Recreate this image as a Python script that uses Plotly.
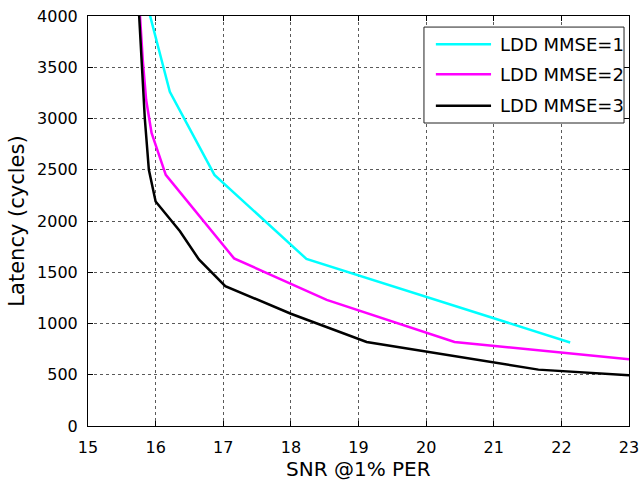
import plotly.graph_objects as go

# ---- data ----
snr_mmse1 = [15.84, 16.21, 16.87, 18.23, 22.13]
lat_mmse1 = [4200, 3260, 2450, 1630, 815]

snr_mmse2 = [15.75, 15.81, 15.86, 15.94, 16.15, 17.16, 18.53, 20.42, 23.0]
lat_mmse2 = [4200, 3570, 3180, 2860, 2450, 1635, 1230, 820, 650]

snr_mmse3 = [15.74, 15.80, 15.84, 15.90, 16.0, 16.36, 16.64, 17.03, 18.0, 19.12, 21.66, 23.0]
lat_mmse3 = [4200, 3505, 3000, 2500, 2190, 1900, 1625, 1365, 1095, 820, 550, 495]

series_names = ["LDD MMSE=1", "LDD MMSE=2", "LDD MMSE=3"]
series_colors = ["#00FFFF", "#FF00FF", "#000000"]

x_ticks = [15, 16, 17, 18, 19, 20, 21, 22, 23]
y_ticks = [0, 500, 1000, 1500, 2000, 2500, 3000, 3500, 4000]

x_title = "SNR @1% PER"
y_title = "Latency (cycles)"

xs = [snr_mmse1, snr_mmse2, snr_mmse3]
ys = [lat_mmse1, lat_mmse2, lat_mmse3]

fig = go.Figure()
for x, y, name, color in zip(xs, ys, series_names, series_colors):
    fig.add_trace(go.Scatter(x=x, y=y, mode="lines", name=name,
                             line=dict(color=color, width=2.5),
                             showlegend=False))

tick_font = dict(family="DejaVu Sans", size=16, color="#000000")
title_font = dict(family="DejaVu Sans", size=21, color="#000000")
grid = dict(showgrid=True, gridcolor="#5a5a5a", gridwidth=1, griddash="3px,3px",
            showline=True, linecolor="#000000", linewidth=1, mirror="ticks",
            ticks="inside", ticklen=5, tickcolor="#000000", zeroline=False,
            tickfont=tick_font, automargin=True)

fig.update_xaxes(range=[15, 23], tickvals=x_ticks, ticklabelstandoff=7, **grid)
fig.update_yaxes(range=[0, 4000], tickvals=y_ticks,
                 title=dict(text=y_title, font=title_font, standoff=6),
                 ticklabelstandoff=6,
                 **grid)

# x-axis title placed just below the tick labels
fig.add_annotation(xref="paper", yref="paper", x=0.5, y=-0.1037,
                   xanchor="center", yanchor="middle", showarrow=False,
                   borderpad=0, text=x_title,
                   font=dict(family="DejaVu Sans", size=20, color="#000000"))

# ---- legend box drawn in paper coordinates ----
fig.add_shape(type="rect", xref="paper", yref="paper",
              x0=0.621, x1=0.9908, y0=0.739, y1=0.973,
              line=dict(color="#222222", width=1), fillcolor="#ffffff", layer="above")
row_y = [0.931, 0.858, 0.781]
for ry, name, color in zip(row_y, series_names, series_colors):
    fig.add_shape(type="line", xref="paper", yref="paper",
                  x0=0.643, x1=0.745, y0=ry, y1=ry,
                  line=dict(color=color, width=2.5), layer="above")
    fig.add_annotation(xref="paper", yref="paper", x=0.757, y=ry,
                       xanchor="left", yanchor="middle", showarrow=False,
                       text=name, font=dict(family="DejaVu Sans", size=18, color="#000000"))

fig.update_layout(width=641, height=482,
                  margin=dict(l=88, r=12, t=16, b=56, autoexpand=False),
                  plot_bgcolor="#ffffff", paper_bgcolor="#ffffff")

fig.write_html("out.html",
               post_script="document.body.style.margin='0';document.body.style.overflow='hidden';")
